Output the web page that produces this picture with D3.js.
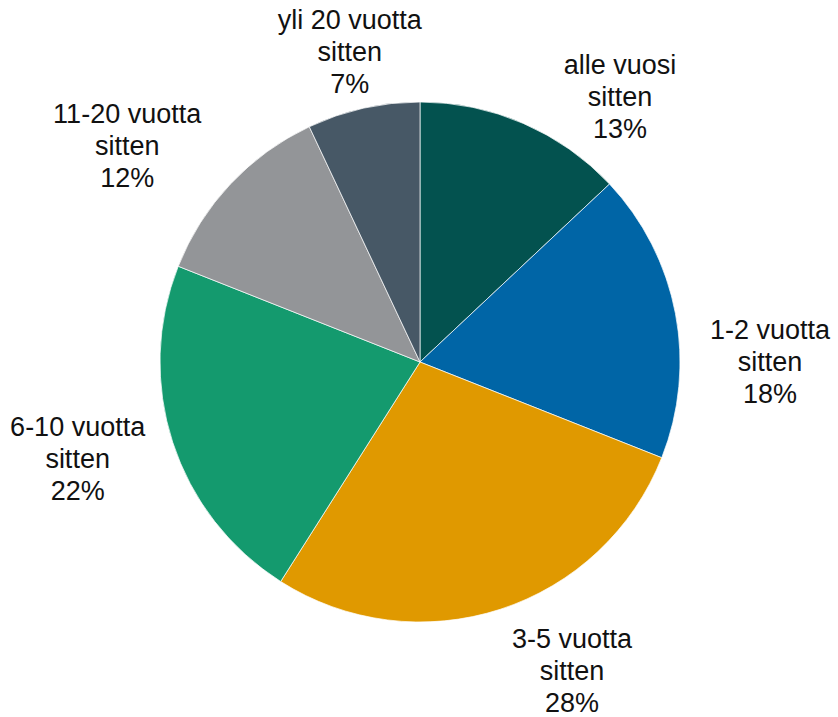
<!DOCTYPE html>
<html>
<head>
<meta charset="utf-8">
<script src="https://cdn.jsdelivr.net/npm/d3@7.9.0/dist/d3.min.js"></script>
<style>
  body { margin: 0; background: #fff; }
  text { font-family: "Liberation Sans", Arial, sans-serif; font-size: 27px; fill: #111; }
</style>
</head>
<body>
<svg width="838" height="717"></svg>
<script>
// data
const categories = ['alle vuosi', '1-2 vuotta', '3-5 vuotta', '6-10 vuotta', '11-20 vuotta', 'yli 20 vuotta'];
const values = [13, 18, 28, 22, 12, 7];
const colors = ['#03524f', '#0065a6', '#e09900', '#149a6e', '#939598', '#475866'];

// label nudges (layout only), px from the label arc centroid
const labelShift = [[65, 47], [16, 63], [47, -15], [-19, -9], [-45, 16], [4, 21]];

const cx = 420, cy = 362, radius = 260;
const svg = d3.select('svg');
const g = svg.append('g').attr('transform', `translate(${cx},${cy})`);

const pie = d3.pie().sort(null).value((d) => d.value);
const data = categories.map((c, i) => ({ label: c, value: values[i] }));
const arcs = pie(data);

let arcGen = d3.arc().innerRadius(0).outerRadius(radius);
let labelArc = d3.arc().innerRadius(340).outerRadius(340);

g.selectAll('path')
  .data(arcs)
  .join('path')
  .attr('d', arcGen)
  .attr('fill', (d, i) => colors[i])
  .attr('stroke', '#fff')
  .attr('stroke-width', 0.7);

// labels: name / sitten / pct
arcs.forEach((d, i) => {
  const [x, y] = labelArc.centroid(d);
  const lx = x + labelShift[i][0];
  const ly = y + labelShift[i][1];
  const t = g.append('text').attr('text-anchor', 'middle');
  const lines = [d.data.label, 'sitten', d.data.value + '%'];
  lines.forEach((s, k) => {
    t.append('tspan')
      .attr('x', lx)
      .attr('y', ly + (k - 1) * 32 + 9.5)
      .text(s);
  });
});
</script>
</body>
</html>
